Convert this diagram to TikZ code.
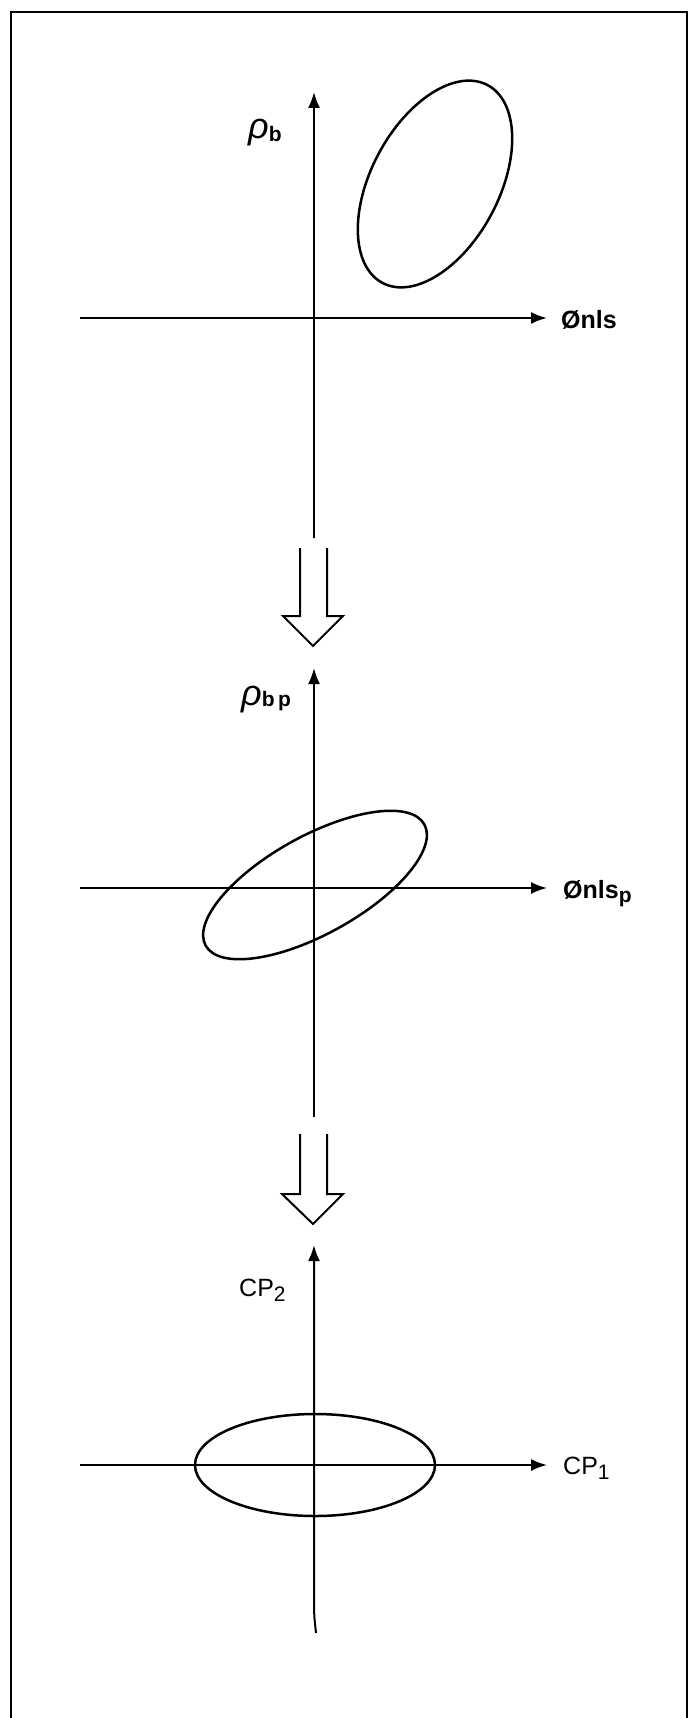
\documentclass[tikz,border=0pt]{standalone}
\usepackage{fontspec}
\setmainfont{Liberation Sans}
\usetikzlibrary{arrows.meta}
\newcommand\lowsub[2]{\raisebox{-#1}{\fontsize{21}{21}\selectfont #2}}
\newcommand\rhoglyph{{\fontsize{36}{36}\selectfont\itshape ρ}}
\begin{document}
\begin{tikzpicture}[x=1pt,y=-1pt,
  axis/.style={line width=2pt,-{Latex[length=16pt,width=12pt]}},
  curve/.style={line width=2.5pt},
  hollow/.style={line width=2pt,line join=miter},
  frame/.style={line width=2pt},
  lab/.style={font=\fontsize{25}{27}\selectfont,inner sep=0pt,anchor=base west},
  boldlab/.style={lab,font=\fontsize{25}{27}\selectfont\bfseries}]
\useasboundingbox (0,0) rectangle (691,1718);
\fill[white] (0,0) rectangle (691,1718);
% frame
\draw[frame] (11,1718) -- (11,12) -- (687,12) -- (687,1718);

% ---- top plot ----
\coordinate (h1s) at (80,318);
\coordinate (h1e) at (547,318);
\coordinate (v1s) at (314,538);
\coordinate (v1e) at (314,92);
\draw[axis] (h1s) -- (h1e);
\draw[axis] (v1s) -- (v1e);
\draw[curve,rotate around={62:(435,184)}] (435,184) ellipse [x radius=112pt,y radius=64pt];
\node[boldlab] (l1x) at (561,328) {Ønls};
\node[lab] (l1y) at (248,139) {\rhoglyph\lowsub{3pt}{\bfseries b}};

% ---- hollow arrow 1 ----
\draw[hollow] (300,548) -- (300,616) -- (283,616) -- (313,646) -- (343,616) -- (327,616) -- (327,548);

% ---- middle plot ----
\coordinate (h2s) at (80,888);
\coordinate (h2e) at (547,888);
\coordinate (v2s) at (314,1117);
\coordinate (v2e) at (314,668);
\draw[axis] (h2s) -- (h2e);
\draw[axis] (v2s) -- (v2e);
\draw[curve,rotate around={29:(315,885)}] (315,885) ellipse [x radius=125pt,y radius=49pt];
\node[boldlab] (l2x) at (563,898) {Ønls\lowsub{4pt}{p}};
\node[lab] (l2y) at (241,705) {\rhoglyph\lowsub{1pt}{\bfseries b\,p}};

% ---- hollow arrow 2 ----
\draw[hollow] (300,1134) -- (300,1194) -- (282,1194) -- (313,1224) -- (343,1194) -- (327,1194) -- (327,1134);

% ---- bottom plot ----
\coordinate (h3s) at (80,1465);
\coordinate (h3e) at (547,1465);
\coordinate (v3s) at (316,1633);
\coordinate (v3e) at (314,1245);
\draw[axis] (h3s) -- (h3e);
\draw[axis] (v3s) .. controls (314,1615) .. (314,1590) -- (v3e);
\draw[curve] (315,1465) ellipse [x radius=120pt,y radius=51pt];
\node[lab] (l3x) at (563,1474) {CP\lowsub{5pt}{1}};
\node[lab] (l3y) at (239,1296) {CP\lowsub{5pt}{2}};
\end{tikzpicture}
\end{document}
